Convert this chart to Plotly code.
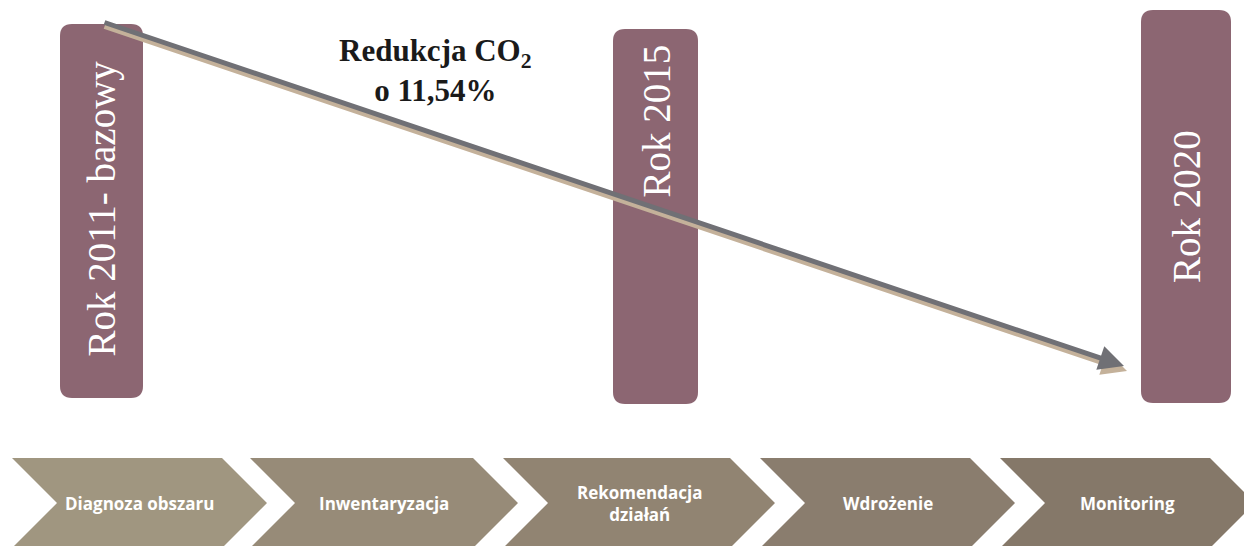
import plotly.graph_objects as go

# milestone bars (label, left, right, top, bottom, text centre y)
bar_labels = ["Rok 2011- bazowy", "Rok 2015", "Rok 2020"]
bar_x0 = [60, 613, 1141]
bar_x1 = [143, 698, 1231]
bar_y0 = [24, 29, 10]
bar_y1 = [398, 404, 403]
bar_text_y = [209, 121, 207]

# process steps
steps = ["Diagnoza obszaru", "Inwentaryzacja", "Rekomendacja<br>działań", "Wdrożenie", "Monitoring"]
step_left = [12, 250, 503, 760, 1000]
step_right = [222, 473, 730, 970, 1210]
step_colors = ["#a09680", "#978b78", "#918472", "#8a7d6e", "#857869"]

title_lines = "Redukcja CO<sub>2</sub><br>o 11,54%"

W, H = 1244, 546
BAR_COLOR = "#8c6672"


def rounded_rect(x0, y0, x1, y1, r=12):
    return (f"M {x0 + r},{y0} L {x1 - r},{y0} Q {x1},{y0} {x1},{y0 + r} "
            f"L {x1},{y1 - r} Q {x1},{y1} {x1 - r},{y1} L {x0 + r},{y1} "
            f"Q {x0},{y1} {x0},{y1 - r} L {x0},{y0 + r} Q {x0},{y0} {x0 + r},{y0} Z")


def chevron(left, right, top=458, bottom=548, depth=45):
    mid = (top + bottom) / 2
    return (f"M {left},{top} L {right},{top} L {right + depth},{mid} "
            f"L {right},{bottom} L {left},{bottom} L {left + depth},{mid} Z")


fig = go.Figure()
fig.add_trace(go.Scatter(x=[0, W], y=[0, H], mode="markers", marker=dict(opacity=0),
                         hoverinfo="skip", showlegend=False))

shapes = []
annotations = []

for lab, x0, x1, y0, y1, ty in zip(bar_labels, bar_x0, bar_x1, bar_y0, bar_y1, bar_text_y):
    shapes.append(dict(type="path", path=rounded_rect(x0, y0, x1, y1), xref="x", yref="y",
                       fillcolor=BAR_COLOR, line=dict(width=0), layer="below"))
    annotations.append(dict(x=(x0 + x1) / 2, y=ty, xref="x", yref="y", text=lab,
                            textangle=-90, showarrow=False,
                            font=dict(family="Liberation Serif", size=39, color="white")))

for lab, l, r, c in zip(steps, step_left, step_right, step_colors):
    shapes.append(dict(type="path", path=chevron(l, r), xref="x", yref="y",
                       fillcolor=c, line=dict(width=0), layer="below"))
    annotations.append(dict(x=(l + r + 45) / 2, y=503, xref="x", yref="y", text=f"<b>{lab}</b>",
                            showarrow=False,
                            font=dict(family="Open Sans", size=17, color="white")))

# arrow: tan shadow first, then grey
annotations.append(dict(x=1127, y=371, ax=103, ay=26, xref="x", yref="y", axref="x", ayref="y",
                        text="", showarrow=True, arrowhead=2, arrowsize=1, arrowwidth=5,
                        arrowcolor="#c4b19a", standoff=0, startstandoff=0))
annotations.append(dict(x=1124, y=366, ax=103, ay=22, xref="x", yref="y", axref="x", ayref="y",
                        text="", showarrow=True, arrowhead=2, arrowsize=1, arrowwidth=5,
                        arrowcolor="#707075", standoff=0, startstandoff=0))

annotations.append(dict(x=435, y=70, xref="x", yref="y", text=f"<b>{title_lines}</b>",
                        showarrow=False, align="center",
                        font=dict(family="Liberation Serif", size=31, color="#1a1a1a")))

fig.update_layout(
    width=W, height=H,
    margin=dict(l=0, r=0, t=0, b=0),
    paper_bgcolor="white", plot_bgcolor="white",
    xaxis=dict(range=[0, W], visible=False, fixedrange=True),
    yaxis=dict(range=[H, 0], visible=False, fixedrange=True),
    shapes=shapes, annotations=annotations,
    showlegend=False,
)

fig.write_html("out.html", config={"displayModeBar": False},
               post_script="document.body.style.margin='0';")
